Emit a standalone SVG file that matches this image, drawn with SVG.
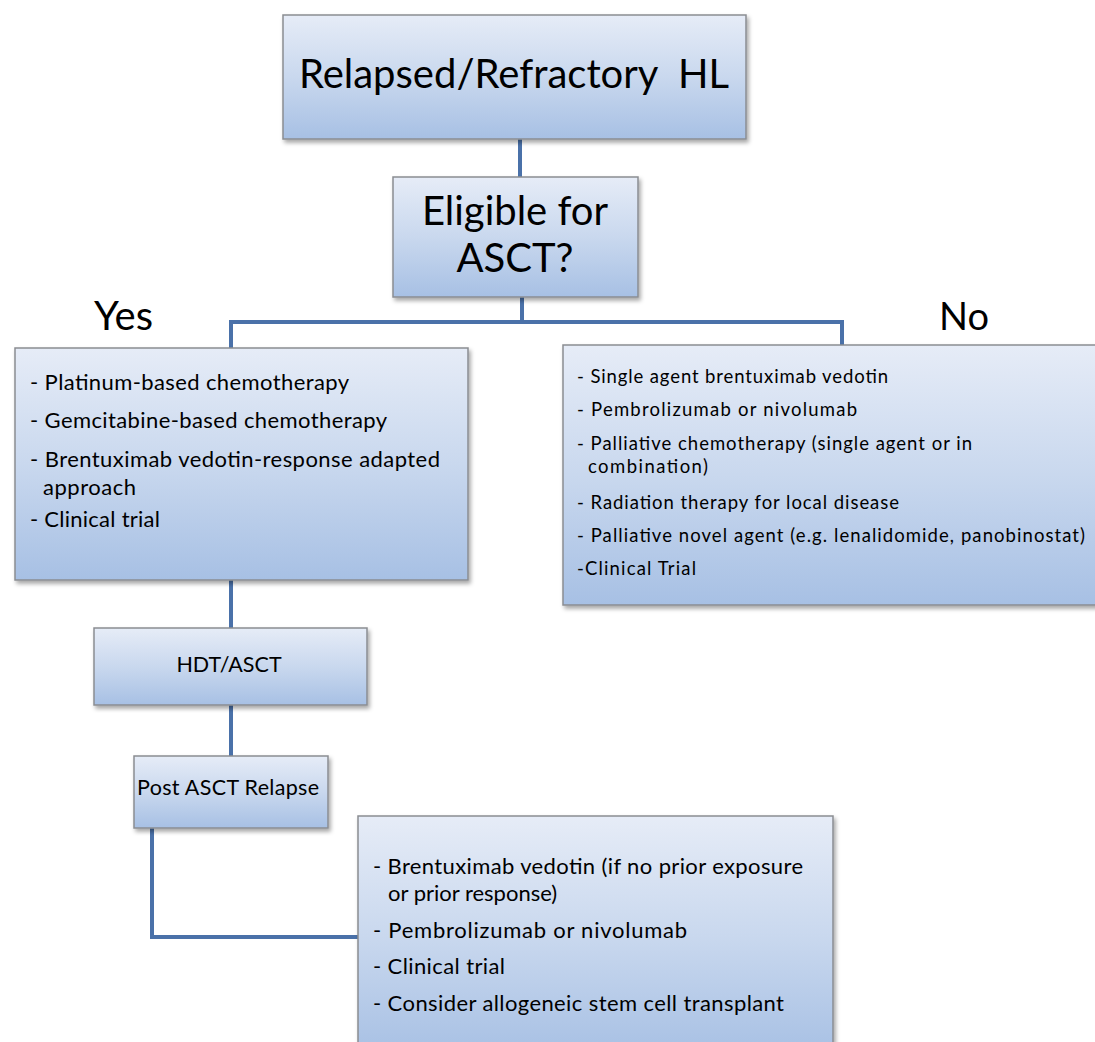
<svg xmlns="http://www.w3.org/2000/svg" width="1095" height="1042" viewBox="0 0 1095 1042">
<defs>
<linearGradient id="g" x1="0" y1="0" x2="0" y2="1">
<stop offset="0" stop-color="#e6ecf7"/>
<stop offset="0.5" stop-color="#c9d8ee"/>
<stop offset="1" stop-color="#a7c0e4"/>
</linearGradient>
<filter id="sh" x="-5%" y="-5%" width="110%" height="115%">
<feDropShadow dx="2" dy="3" stdDeviation="2" flood-color="#000" flood-opacity="0.35"/>
</filter>
</defs>
<style>
.box{fill:url(#g);stroke:#8a8d92;stroke-width:1.5;filter:url(#sh)}
.t{font-family:Lato,"Liberation Sans",sans-serif;fill:#000}
.big{font-size:40px}
.mid{font-size:40px}
.s21{font-size:22px}
.s22{font-size:21.5px}
.s18{font-size:18.5px}
.c{text-anchor:middle}
.con{fill:none;stroke:#4a71a9;stroke-width:4}
</style>
<rect width="1095" height="1042" fill="#fff"/>
<g id="connectors">
<line class="con" x1="520" y1="139" x2="520" y2="177"/>
<polyline class="con" points="522,297 522,322"/>
<polyline class="con" points="231,348 231,322 842,322 842,346"/>
<line class="con" x1="231" y1="580" x2="231" y2="628"/>
<line class="con" x1="231" y1="705" x2="231" y2="757"/>
<polyline class="con" points="152,828 152,937 358,937"/>
</g>
<g id="n1">
<rect class="box" x="283" y="15" width="463" height="124"/>
<text class="t big c" x="514" y="88" xml:space="preserve">Relapsed/Refractory  HL</text>
</g>
<g id="n2">
<rect class="box" x="393" y="177" width="245" height="120"/>
<text class="t mid c" x="515" y="225">Eligible for</text>
<text class="t mid c" x="515" y="272">ASCT?</text>
</g>
<g id="yes"><text class="t mid" x="94" y="330">Yes</text></g>
<g id="no"><text class="t mid" x="939" y="330" style="font-size:38px">No</text></g>
<g id="n3">
<rect class="box" x="15" y="348" width="453" height="232"/>
<text class="t s21" x="30" y="390" textLength="319">- Platinum-based chemotherapy</text>
<text class="t s21" x="30" y="428" textLength="357">- Gemcitabine-based chemotherapy</text>
<text class="t s21" x="30" y="467" textLength="410">- Brentuximab vedotin-response adapted</text>
<text class="t s21" x="43" y="495" textLength="93">approach</text>
<text class="t s21" x="30" y="527" textLength="130">- Clinical trial</text>
</g>
<g id="n4">
<rect class="box" x="563" y="345" width="545" height="260"/>
<text class="t s18" x="577" y="383" textLength="311">- Single agent brentuximab vedotin</text>
<text class="t s18" x="577" y="416" textLength="280">- Pembrolizumab or nivolumab</text>
<text class="t s18" x="577" y="450" textLength="395">- Palliative chemotherapy (single agent or in</text>
<text class="t s18" x="588" y="473" textLength="120">combination)</text>
<text class="t s18" x="577" y="509" textLength="322">- Radiation therapy for local disease</text>
<text class="t s18" x="577" y="542" textLength="508">- Palliative novel agent (e.g. lenalidomide, panobinostat)</text>
<text class="t s18" x="577" y="575" textLength="119">-Clinical Trial</text>
</g>
<g id="n5">
<rect class="box" x="94" y="628" width="273" height="77"/>
<text class="t s22 c" x="229" y="672">HDT/ASCT</text>
</g>
<g id="n6">
<rect class="box" x="134" y="756" width="194" height="72"/>
<text class="t s22 c" x="228" y="795" textLength="182">Post ASCT Relapse</text>
</g>
<g id="n7">
<rect class="box" x="358" y="816" width="475" height="240"/>
<text class="t s21" x="373" y="874" textLength="430">- Brentuximab vedotin (if no prior exposure</text>
<text class="t s21" x="388" y="901">or prior response)</text>
<text class="t s21" x="373" y="938" textLength="314">- Pembrolizumab or nivolumab</text>
<text class="t s21" x="373" y="974" textLength="132">- Clinical trial</text>
<text class="t s21" x="373" y="1011" textLength="411">- Consider allogeneic stem cell transplant</text>
</g>
</svg>
